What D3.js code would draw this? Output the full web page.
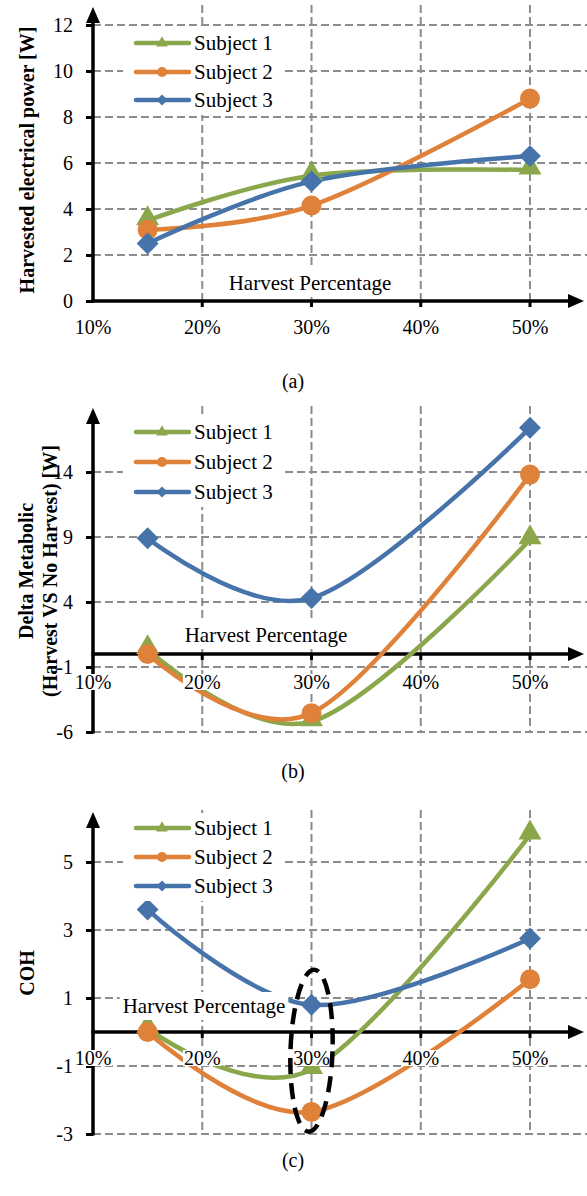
<!DOCTYPE html>
<html>
<head>
<meta charset="utf-8">
<script src="https://cdn.jsdelivr.net/npm/d3@7"></script>
<style>
  body { margin: 0; background: #fff; }
  svg { display: block; }
  svg text { font-family: "Liberation Serif", "Times New Roman", "DejaVu Serif", serif !important; }
</style>
</head>
<body>
<svg id="chart" width="587" height="1196"></svg>
<script>
// Harvest percentage of each measurement and x tick labels
var harvestPct = [15, 30, 50];
var xTickValues = [10, 20, 30, 40, 50];
var subjects = ["Subject 1", "Subject 2", "Subject 3"];

// (a) Harvested electrical power [W]
var powerTicks = [0, 2, 4, 6, 8, 10, 12];
var powerS1 = [3.5, 5.45, 5.7];
var powerS2 = [3.1, 4.15, 8.8];
var powerS3 = [2.5, 5.2, 6.3];

// (b) Delta metabolic (harvest vs no harvest) [W]
var metabTicks = [-6, -1, 4, 9, 14];
var metabS1 = [0.35, -5.2, 8.8];
var metabS2 = [0.0, -4.55, 13.8];
var metabS3 = [8.9, 4.3, 17.4];

// (c) COH
var cohTicks = [-3, -1, 1, 3, 5];
var cohS1 = [0.1, -1.1, 5.8];
var cohS2 = [0.0, -2.35, 1.55];
var cohS3 = [3.6, 0.8, 2.75];

var colors = ["#8aa84b", "#e0813a", "#4673aa"];
var symbols = [d3.symbolTriangle, d3.symbolCircle, d3.symbolSquare];
var markerSize = [230, 314, 240];
var legendMarkerSize = [60, 80, 60];
var gridColor = "#8c8c8c";

var svg = d3.select("#chart");
var x = d3.scaleLinear().domain([10, 50]).range([93, 530]);

function markerTransform(i, px, py) {
  // diamonds are squares turned by 45 degrees
  return "translate(" + px + "," + py + ")" + (i === 2 ? " rotate(45)" : "");
}

function addBox(g, textSel, padX, padY) {
  var b = textSel.node().getBBox();
  g.insert("rect", function() { return textSel.node(); })
   .attr("x", b.x - padX).attr("y", b.y - padY)
   .attr("width", b.width + 2 * padX).attr("height", b.height + 2 * padY)
   .attr("fill", "#fff");
}

function drawPanel(p) {
  var y = d3.scaleLinear().domain(p.domain).range(p.range);
  var g = svg.append("g");
  var y0 = y(0), yBottom = y(p.domain[0]), xLeft = x(10);

  // grid
  g.selectAll(".hgrid").data(p.ticks.filter(function(t) { return t !== 0; }))
   .enter().append("line")
   .attr("x1", xLeft).attr("x2", 587)
   .attr("y1", function(d) { return y(d); }).attr("y2", function(d) { return y(d); })
   .attr("stroke", gridColor).attr("stroke-width", 2).attr("stroke-dasharray", "8,4");
  g.selectAll(".vgrid").data(xTickValues.slice(1))
   .enter().append("line")
   .attr("x1", function(d) { return x(d); }).attr("x2", function(d) { return x(d); })
   .attr("y1", p.top - 2).attr("y2", yBottom)
   .attr("stroke", gridColor).attr("stroke-width", 2).attr("stroke-dasharray", "8,4");

  // y axis with arrow
  var yAxis = g.append("g").attr("transform", "translate(" + xLeft + ",0)")
    .call(d3.axisLeft(y).tickValues(p.ticks).tickSize(7).tickPadding(13)
      .tickFormat(function(d) { return String(d); }));
  yAxis.select(".domain").remove();
  yAxis.attr("font-size", 20);
  yAxis.selectAll("line").attr("stroke", "#000").attr("stroke-width", 3);
  yAxis.selectAll("text").attr("fill", "#000");
  g.append("line").attr("x1", xLeft).attr("x2", xLeft)
   .attr("y1", yBottom + 1.5).attr("y2", p.top + 12)
   .attr("stroke", "#000").attr("stroke-width", 3.5);
  g.append("path")
   .attr("d", "M" + (xLeft - 7) + "," + (p.top + 16) + "L" + xLeft + "," + p.top +
              "L" + (xLeft + 7) + "," + (p.top + 16) + "Z")
   .attr("fill", "#000");

  // x axis with arrow
  g.append("line").attr("x1", xLeft - 1.5).attr("x2", 572)
   .attr("y1", y0).attr("y2", y0)
   .attr("stroke", "#000").attr("stroke-width", 3.5);
  g.append("path")
   .attr("d", "M568," + (y0 - 7) + "L584," + y0 + "L568," + (y0 + 7) + "Z")
   .attr("fill", "#000");
  g.selectAll(".xtick").data(xTickValues.slice(1)).enter().append("line")
   .attr("x1", function(d) { return x(d); }).attr("x2", function(d) { return x(d); })
   .attr("y1", y0).attr("y2", y0 + 6)
   .attr("stroke", "#000").attr("stroke-width", 3);

  // series
  var line = d3.line()
    .x(function(d, i) { return x(harvestPct[i]); })
    .y(function(d) { return y(d); })
    .curve(d3.curveCardinal.tension(0));
  p.series.forEach(function(vals, i) {
    g.append("path").attr("d", line(vals))
     .attr("fill", "none").attr("stroke", colors[i]).attr("stroke-width", 4.5)
     .attr("stroke-linecap", "round");
  });
  p.series.forEach(function(vals, i) {
    g.selectAll(null).data(vals).enter().append("path")
     .attr("d", d3.symbol().type(symbols[i]).size(markerSize[i]))
     .attr("transform", function(d, j) {
       return markerTransform(i, x(harvestPct[j]), y(d) - (i === 0 ? 2 : 0));
     })
     .attr("fill", colors[i]);
  });

  // x tick labels
  xTickValues.forEach(function(v) {
    var t = g.append("text").attr("x", x(v)).attr("y", p.xLabelY)
      .attr("text-anchor", "middle").attr("dominant-baseline", "central")
      .attr("font-size", 20).text(v + "%");
    addBox(g, t, 1, -3);
  });

  // axis label
  var hp = g.append("text").attr("x", p.hpX).attr("y", p.hpY)
    .attr("text-anchor", "middle").attr("dominant-baseline", "central")
    .attr("font-size", 21).text("Harvest Percentage");
  addBox(g, hp, 3, 2);

  // legend
  var ly = p.legendY;
  g.append("rect").attr("x", 123).attr("y", ly[0] - 15)
   .attr("width", 160).attr("height", ly[2] - ly[0] + 30).attr("fill", "#fff");
  subjects.forEach(function(name, i) {
    g.append("line").attr("x1", 136).attr("x2", 189)
     .attr("y1", ly[i]).attr("y2", ly[i])
     .attr("stroke", colors[i]).attr("stroke-width", 4.5).attr("stroke-linecap", "round");
    g.append("path").attr("d", d3.symbol().type(symbols[i]).size(legendMarkerSize[i]))
     .attr("transform", markerTransform(i, 162, ly[i]))
     .attr("fill", colors[i]);
    g.append("text").attr("x", 194).attr("y", ly[i])
     .attr("dominant-baseline", "central")
     .attr("font-size", 21).text(name);
  });

  // y title
  p.title.forEach(function(s, k) {
    g.append("text")
     .attr("transform", "translate(" + p.titleX[k] + "," + p.titleY + ") rotate(-90)")
     .attr("text-anchor", "middle").attr("dominant-baseline", "central")
     .attr("font-size", 20).attr("font-weight", "bold")
     .text(s);
  });

  // caption
  svg.append("text").attr("x", 293).attr("y", p.captionY)
   .attr("text-anchor", "middle").attr("dominant-baseline", "central")
   .attr("font-size", 20).text(p.caption);

  return { g: g, y: y };
}

drawPanel({
  domain: [0, 12], range: [301, 25], top: 7, ticks: powerTicks,
  series: [powerS1, powerS2, powerS3],
  xLabelY: 327, hpX: 310, hpY: 283, legendY: [43, 72, 100],
  title: ["Harvested electrical power [W]"], titleX: [27], titleY: 160,
  caption: "(a)", captionY: 381
});

drawPanel({
  domain: [-6, 14], range: [732, 472], top: 408, ticks: metabTicks,
  series: [metabS1, metabS2, metabS3],
  xLabelY: 682, hpX: 266, hpY: 635, legendY: [432, 462, 492],
  title: ["Delta Metabolic", "(Harvest VS No Harvest) [W]"], titleX: [26, 50], titleY: 571,
  caption: "(b)", captionY: 771
});

var pc = drawPanel({
  domain: [-3, 5], range: [1134, 862], top: 812, ticks: cohTicks,
  series: [cohS1, cohS2, cohS3],
  xLabelY: 1058, hpX: 204, hpY: 1006, legendY: [828, 857, 886],
  title: ["COH"], titleX: [27], titleY: 973,
  caption: "(c)", captionY: 1160
});

// dashed ellipse marking the 30% harvest point in (c)
pc.g.append("ellipse")
  .attr("transform", "translate(" + x(30) + "," + pc.y(-0.55) + ") rotate(2)")
  .attr("rx", 21).attr("ry", 81)
  .attr("fill", "none").attr("stroke", "#000").attr("stroke-width", 4.5)
  .attr("stroke-dasharray", "16,9");
</script>
</body>
</html>
